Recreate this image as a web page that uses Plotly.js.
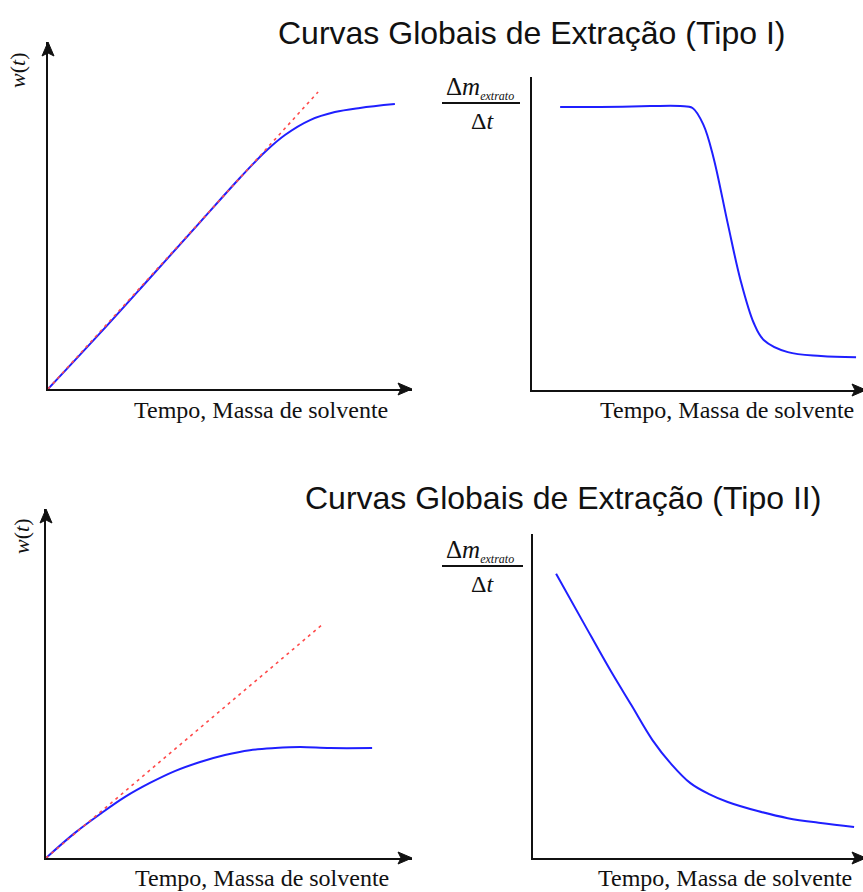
<!DOCTYPE html>
<html>
<head>
<meta charset="utf-8">
<script src="https://cdn.plot.ly/plotly-3.0.1.min.js"></script>
<style>html,body{margin:0;padding:0;background:#fff;}#chart{width:863px;height:892px;}</style>
</head>
<body>
<div id="chart"></div>
<script>
// ---- Data (schematic units, 0..10 on every axis) ----
const tipoI_w_x = [0, 1.43, 2.80, 4.18, 5.27, 5.96, 6.51, 7.20, 7.88, 8.57, 9.53];
const tipoI_w_y = [0, 1.61, 3.20, 4.81, 6.08, 6.83, 7.32, 7.75, 7.98, 8.10, 8.21];
const tipoI_lin_x = [0, 7.42];
const tipoI_lin_y = [0, 8.56];
const tipoI_taxa_x = [0.85, 2.06, 3.58, 4.48, 4.85, 5.18, 5.48, 5.91, 6.30, 6.70, 7.00, 7.73, 8.73, 9.79];
const tipoI_taxa_y = [9.04, 9.04, 9.07, 9.07, 9.01, 8.47, 7.44, 5.34, 3.51, 2.14, 1.60, 1.21, 1.09, 1.05];

const tipoII_w_x = [0, 0.79, 1.48, 2.16, 2.84, 3.52, 4.21, 4.89, 5.57, 6.26, 6.94, 7.76, 8.91];
const tipoII_w_y = [0, 0.72, 1.26, 1.75, 2.15, 2.49, 2.75, 2.95, 3.09, 3.15, 3.18, 3.15, 3.15];
const tipoII_lin_x = [0, 7.54];
const tipoII_lin_y = [0, 6.68];
const tipoII_taxa_x = [0.70, 1.52, 2.34, 2.98, 3.62, 4.19, 4.77, 5.32, 5.90, 6.81, 7.72, 8.72, 9.73];
const tipoII_taxa_y = [8.77, 7.28, 5.80, 4.72, 3.64, 2.90, 2.31, 1.98, 1.73, 1.45, 1.23, 1.08, 0.96];

const titles = ["Curvas Globais de Extração (Tipo I)", "Curvas Globais de Extração (Tipo II)"];
const xLabel = "Tempo, Massa de solvente";
const wLabel = "<i>w</i>(<i>t</i>)";
const rateNum = "Δ<i>m</i><sub><span style='font-size:12px'><i>extrato</i></span></sub>";
const rateDen = "Δ<i>t</i>";

// ---- Layout helpers (pixel -> paper) ----
const W = 863, H = 892;
const px = v => v / W;
const py = v => 1 - v / H;

const BLUE = '#1f1fff';
const RED = '#ff4a4a';
const SERIF = 'Liberation Serif, Times New Roman, serif';
const SANS = 'Liberation Sans, Arial, sans-serif';

function blue(x, y, xa, ya) {
  return {x: x, y: y, xaxis: xa, yaxis: ya, mode: 'lines', line: {color: BLUE, width: 2, shape: 'spline', smoothing: 1}, hoverinfo: 'skip'};
}
function red(x, y, xa, ya) {
  return {x: x, y: y, xaxis: xa, yaxis: ya, mode: 'lines', line: {color: RED, width: 1.6, dash: '3px,4px'}, hoverinfo: 'skip'};
}

const data = [
  blue(tipoI_w_x, tipoI_w_y, 'x', 'y'),
  red(tipoI_lin_x, tipoI_lin_y, 'x', 'y'),
  blue(tipoI_taxa_x, tipoI_taxa_y, 'x2', 'y2'),
  blue(tipoII_w_x, tipoII_w_y, 'x3', 'y3'),
  red(tipoII_lin_x, tipoII_lin_y, 'x3', 'y3'),
  blue(tipoII_taxa_x, tipoII_taxa_y, 'x4', 'y4')
];

function ax(domain, anchor) {
  return {domain: domain, anchor: anchor, range: [0, 10], showline: true, linecolor: '#111', linewidth: 2,
          showgrid: false, zeroline: false, showticklabels: false, ticks: '', fixedrange: true};
}

// panel pixel boxes: [xLeft, xRight, yBottom, yTop]
const P1 = [48, 412, 389, 42];
const P2 = [532, 866, 390, 77];
const P3 = [46, 412, 858, 509];
const P4 = [533, 866, 858, 534];

function dx(p) { return [px(p[0]), Math.min(1, px(p[1]))]; }
function dy(p) { return [py(p[2]), py(p[3])]; }

// filled arrowhead shapes (paper coordinates)
function headRight(x, y) {
  return {type: 'path', xref: 'paper', yref: 'paper', fillcolor: '#111', line: {color: '#111', width: 1},
          path: `M ${px(x)} ${py(y)} L ${px(x - 14)} ${py(y - 6)} L ${px(x - 11)} ${py(y)} L ${px(x - 14)} ${py(y + 6)} Z`};
}
function headUp(x, y) {
  return {type: 'path', xref: 'paper', yref: 'paper', fillcolor: '#111', line: {color: '#111', width: 1},
          path: `M ${px(x)} ${py(y)} L ${px(x - 6)} ${py(y + 14)} L ${px(x)} ${py(y + 11)} L ${px(x + 6)} ${py(y + 14)} Z`};
}

function txt(text, x, y, size, family, extra) {
  return Object.assign({xref: 'paper', yref: 'paper', x: px(x), y: py(y), text: text, showarrow: false,
          xanchor: 'center', yanchor: 'middle', font: {family: family, size: size, color: '#111'}}, extra || {});
}

const annotations = [
  txt(titles[0], 531, 33, 32, SANS),
  txt(titles[1], 563, 498, 32, SANS),
  txt(xLabel, 261, 410, 24, SERIF),
  txt(xLabel, 727, 410, 24, SERIF),
  txt(xLabel, 262, 878, 24, SERIF),
  txt(xLabel, 725, 878, 24, SERIF),
  txt(wLabel, 18, 71, 22, SERIF, {textangle: -90}),
  txt(wLabel, 21, 537, 22, SERIF, {textangle: -90}),
  txt(rateNum, 480, 88, 25, SERIF),
  txt(rateDen, 483, 121, 24, SERIF),
  txt(rateNum, 480, 551, 25, SERIF),
  txt(rateDen, 483, 584, 24, SERIF)
];

const shapes = [
  {type: 'line', xref: 'paper', yref: 'paper', x0: px(442), x1: px(520), y0: py(103), y1: py(103), line: {color: '#111', width: 2}},
  {type: 'line', xref: 'paper', yref: 'paper', x0: px(442), x1: px(523), y0: py(566), y1: py(566), line: {color: '#111', width: 2}},
  headRight(P1[1], P1[2]),
  headUp(P1[0], P1[3]),
  headRight(866, P2[2]),
  headRight(P3[1], P3[2]),
  headUp(P3[0], P3[3]),
  headRight(866, P4[2])
];

const layout = {
  width: W, height: H,
  margin: {l: 0, r: 0, t: 0, b: 0},
  paper_bgcolor: '#fff', plot_bgcolor: 'rgba(0,0,0,0)',
  showlegend: false,
  xaxis: ax(dx(P1), 'y'), yaxis: ax(dy(P1), 'x'),
  xaxis2: ax(dx(P2), 'y2'), yaxis2: ax(dy(P2), 'x2'),
  xaxis3: ax(dx(P3), 'y3'), yaxis3: ax(dy(P3), 'x3'),
  xaxis4: ax(dx(P4), 'y4'), yaxis4: ax(dy(P4), 'x4'),
  annotations: annotations,
  shapes: shapes
};

Plotly.newPlot('chart', data, layout, {displayModeBar: false, staticPlot: true});
</script>
</body>
</html>
